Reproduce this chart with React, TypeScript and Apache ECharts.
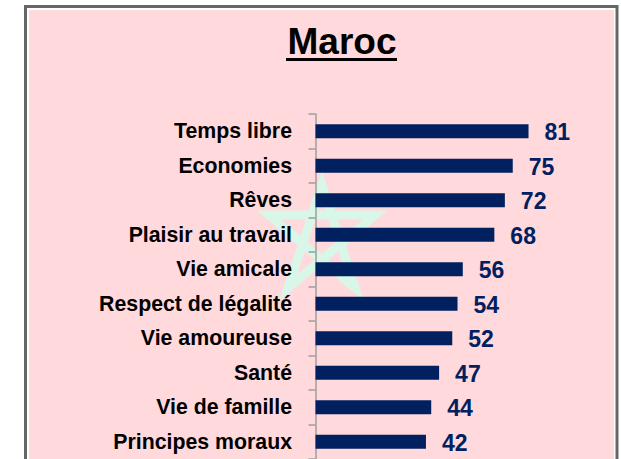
import React, { useEffect, useRef } from "react";
import * as echarts from "echarts";

const categories = ["Temps libre", "Economies", "Rêves", "Plaisir au travail", "Vie amicale", "Respect de légalité", "Vie amoureuse", "Santé", "Vie de famille", "Principes moraux"];
const values = [81, 75, 72, 68, 56, 54, 52, 47, 44, 42];
const titleText = "Maroc";

const FONT = "'Liberation Sans', Arial, sans-serif";
const star: number[][] = [[322, 185], [288, 288], [375, 215], [269, 215], [355, 288]];

export default function App() {
  const ref = useRef<HTMLDivElement>(null);
  useEffect(() => {
    document.body.style.margin = "0";
    document.body.style.background = "#fff";
    const chart = echarts.init(ref.current!, undefined, { renderer: "svg" });
    chart.setOption({
      animation: false,
      backgroundColor: "#ffffff",
      grid: { left: 315.5, top: 114, width: 263, height: 345, containLabel: false },
      xAxis: { type: "value", min: 0, max: 100, show: false },
      yAxis: {
        type: "category",
        inverse: true,
        data: categories,
        axisLine: { show: true, lineStyle: { color: "#9e9e9e", width: 1.5 } },
        axisTick: { show: true, length: 7, lineStyle: { color: "#9e9e9e", width: 1.5 } },
        axisLabel: { color: "#000", fontFamily: FONT, fontWeight: "bold", fontSize: 21.3, margin: 23.5 },
      },
      series: [{
        type: "bar",
        data: values,
        barWidth: 14,
        itemStyle: { color: "#002060" },
        label: { show: true, position: "right", distance: 16, color: "#002060", fontFamily: FONT, fontWeight: "bold", fontSize: 23, offset: [0, 1] },
      }],
      graphic: [
        { type: "rect", z: -20, shape: { x: 25.5, y: 6.5, width: 591.5, height: 470 }, style: { fill: "#ffffff", stroke: "#666666", lineWidth: 3 } },
        { type: "rect", z: -19, shape: { x: 29, y: 10, width: 585, height: 460 }, style: { fill: "#ffd9dc" } },
        { type: "polygon", z: -18, shape: { points: star }, style: { fill: "none", stroke: "#d8f7e8", lineWidth: 9, lineJoin: "miter", miterLimit: 6 } },
        { type: "text", z: 5, x: 342, y: 41, style: { text: titleText, fill: "#000", font: `bold 37px ${FONT}`, align: "center", verticalAlign: "middle" } },
        { type: "rect", z: 5, shape: { x: 286, y: 58, width: 111, height: 3 }, style: { fill: "#000" } },
      ],
    });
    return () => chart.dispose();
  }, []);
  return <div ref={ref} style={{ width: 621, height: 459 }} />;
}
